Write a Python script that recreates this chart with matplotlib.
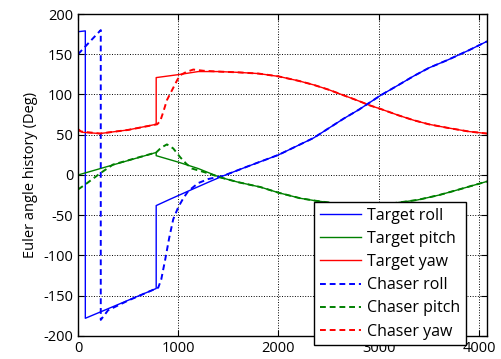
import matplotlib.pyplot as plt

plt.rcParams['font.family'] = ['Open Sans', 'DejaVu Sans']
plt.rcParams['axes.unicode_minus'] = False

# target attitude history
t_roll_x = [0, 73, 73, 780, 780, 920, 1100, 1300, 1450, 1700, 2000, 2200, 2350,
            2500, 2650, 2800, 2910, 3020, 3200, 3350, 3500, 3690, 3900, 4080]
t_roll_y = [178, 179, -178, -141, -38, -30, -20, -9, -1, 11, 25, 37, 46,
            58, 70, 81, 90, 99, 112, 123, 133, 143, 155, 166]

t_pitch_x = [0, 780, 780, 1000, 1200, 1420, 1600, 1820, 2000, 2220, 2370, 2550,
             2750, 2950, 3150, 3387, 3600, 3787, 4080]
t_pitch_y = [0, 28, 24, 16, 8, -3, -9, -15, -22, -29, -32, -35,
             -36.8, -36.8, -35, -31, -25, -18.5, -8]

t_yaw_x = [0, 50, 220, 500, 780, 780, 1020, 1200, 1400, 1600, 1800, 2000, 2200,
           2350, 2500, 2650, 2800, 2910, 3020, 3200, 3350, 3500, 3690, 3900, 4080]
t_yaw_y = [55.5, 53, 51.5, 56, 63, 121, 125, 128.5, 128.5, 127.5, 126, 122.5, 117,
           112, 106, 99, 92, 86.5, 82, 74, 68, 63, 58.5, 54, 51.5]

# chaser attitude history
c_roll_x = [0, 227, 227, 300, 500, 780, 800, 830, 870, 910, 950, 1000, 1050,
            1100, 1200, 1300, 1450, 1700, 2000, 2200, 2350, 2500, 2650, 2800,
            2910, 3020, 3200, 3350, 3500, 3690, 3900, 4080]
c_roll_y = [150, 180, -180, -168, -156, -141, -140, -130, -105, -78, -55, -40, -29,
            -20, -10, -5, -1, 11, 25, 37, 46, 58, 70, 81,
            90, 99, 112, 123, 133, 143, 155, 166]

c_pitch_x = [0, 70, 220, 350, 780, 830, 887, 950, 1020, 1080, 1137, 1220, 1300,
             1420, 1600, 1820, 2000, 2220, 2370, 2550, 2750, 2950, 3150, 3387,
             3600, 3787, 4080]
c_pitch_y = [-18, -12, 2, 13, 28, 34, 38, 33, 22, 14, 8, 5, 2,
             -3, -9, -15, -22, -29, -32, -35, -36.8, -36.8, -35, -31,
             -25, -18.5, -8]

c_yaw_x = [0, 30, 220, 500, 790, 820, 850, 887, 920, 953, 990, 1020, 1080, 1150,
           1250, 1400, 1600, 1800, 2000, 2200, 2350, 2500, 2650, 2800, 2910,
           3020, 3200, 3350, 3500, 3690, 3900, 4080]
c_yaw_y = [57, 54, 51.5, 56, 63, 67, 78, 93, 101, 109, 118, 124, 128, 131,
           129.5, 128.5, 127.5, 126, 122.5, 117, 112, 106, 99, 92, 86.5,
           82, 74, 68, 63, 58.5, 54, 51.5]

blue = (0, 0, 1)
green = (0, 0.5, 0)
red = (1, 0, 0)

fig = plt.figure(figsize=(5.01, 3.59), dpi=100)
ax = fig.add_axes([0.1557, 0.0641, 0.8163, 0.8969])

ax.plot(t_roll_x, t_roll_y, color=blue, lw=1.0, label='Target roll')
ax.plot(t_pitch_x, t_pitch_y, color=green, lw=1.0, label='Target pitch')
ax.plot(t_yaw_x, t_yaw_y, color=red, lw=1.0, label='Target yaw')
ax.plot(c_roll_x, c_roll_y, color=blue, lw=1.4, ls=(0, (3, 2)), label='Chaser roll')
ax.plot(c_pitch_x, c_pitch_y, color=green, lw=1.4, ls=(0, (3, 2)), label='Chaser pitch')
ax.plot(c_yaw_x, c_yaw_y, color=red, lw=1.4, ls=(0, (3, 2)), label='Chaser yaw')

ax.set_xlim(0, 4080)
ax.set_ylim(-200, 200)
ax.set_xticks([0, 1000, 2000, 3000, 4000])
ax.set_yticks(range(-200, 201, 50))
ax.grid(True, color='black', ls=':', lw=0.7)
ax.tick_params(direction='in', top=True, right=True, length=4, labelsize=10.5)
for s in ax.spines.values():
    s.set_linewidth(1.0)
ax.set_ylabel('Euler angle history (Deg)', fontsize=10.5)

leg = ax.legend(loc='upper left', bbox_to_anchor=(0.577, 0.416), fontsize=11.5,
                frameon=True, fancybox=False, framealpha=1, edgecolor='black',
                handlelength=2.6, handletextpad=0.4, labelspacing=0.45,
                borderpad=0.35, borderaxespad=0)
leg.get_frame().set_linewidth(1.0)

fig.savefig('out.png', dpi=100)
